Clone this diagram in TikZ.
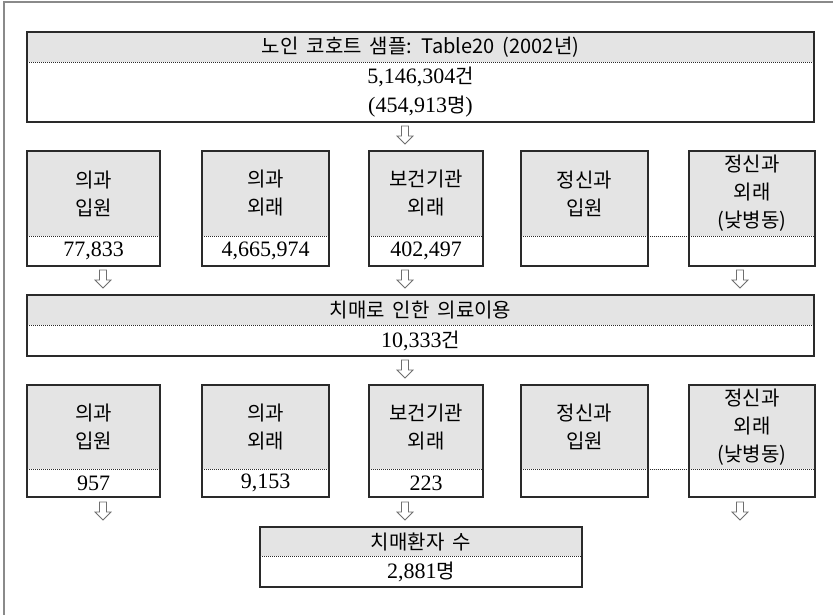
\documentclass[tikz,border=0pt]{standalone}
\usepackage{fontspec}
\setmainfont{Liberation Serif}
\newfontfamily\kr{Noto Sans CJK KR}[WordSpace={1.8}]
\definecolor{boxgray}{HTML}{E4E4E4}
\definecolor{linedark}{HTML}{2A2A2A}
\definecolor{framegray}{HTML}{8A8A8A}
\definecolor{arrgray}{HTML}{6E6E6E}
\begin{document}
\begin{tikzpicture}[x=1pt,y=-1pt,
  hdbox/.style={fill=boxgray, draw=none, inner sep=0pt, outer sep=0pt, anchor=north west,
    align=center, font=\kr\fontsize{20}{28}\selectfont},
  valbox/.style={fill=white, draw=none, inner sep=0pt, outer sep=0pt, anchor=north west,
    align=center, font=\fontsize{22}{29}\selectfont},
  boxline/.style={draw=linedark, line width=1.1pt},
  dotline/.style={draw=linedark, line width=0.6pt, dash pattern=on 0.8pt off 1.2pt},
  framestyle/.style={draw=framegray, line width=1.6pt},
  darr/.pic={\draw[draw=arrgray, line width=0.8pt, fill=white, line join=miter]
     (-3.5,0) -- (-3.5,10) -- (-8,10) -- (0,18) -- (8,10) -- (3.5,10) -- (3.5,0) -- cycle;}
]
\useasboundingbox (0,0) rectangle (833,615);
\draw[framestyle] (4,615) -- (4,2) -- (833,2);

% top box
\node[hdbox, minimum width=787pt, minimum height=30pt] (th) at (27,32) {노인 코호트 샘플: Table20 (2002년)};
\node[valbox, minimum width=787pt, minimum height=60pt] (tv) at (27,62) {5,146,304{\kr\fontsize{20}{29}\selectfont 건}\\({454,913}{\kr\fontsize{20}{29}\selectfont 명})};
\draw[boxline] (th.north west) rectangle (tv.south east);
\draw[dotline] (th.south west) -- (th.south east);

\coordinate (ar0) at (405,126);
\pic at (ar0) {darr};

% row 1
\foreach \n/\x/\w/\lab/\val in {
   a/27/133/{의과\\입원}/{77,833},
   b/202/127/{의과\\외래}/{4,665,974},
   c/369/114/{보건기관\\외래}/{402,497},
   d/521/127/{정신과\\입원}/{},
   e/689/126/{정신과\\외래\\(낮병동)}/{}} {
  \node[hdbox, minimum width=\w pt, minimum height=85pt] (r1\n h) at (\x,151) {\lab};
  \node[valbox, minimum width=\w pt, minimum height=30pt] (r1\n v) at (\x,236) {\val};
  \draw[boxline] (r1\n h.north west) rectangle (r1\n v.south east);
  \draw[dotline] (r1\n h.south west) -- (r1\n h.south east);
}
\draw[dotline] (r1dh.south east) -- (r1eh.south west);

\coordinate (ar1a) at (103,270);
\coordinate (ar1c) at (405,270);
\coordinate (ar1e) at (740,270);
\foreach \c in {ar1a,ar1c,ar1e} \pic at (\c) {darr};

% middle box
\node[hdbox, minimum width=787pt, minimum height=30pt] (mh) at (27,295) {치매로 인한 의료이용};
\node[valbox, minimum width=787pt, minimum height=31pt] (mv) at (27,325) {10,333{\kr\fontsize{20}{29}\selectfont 건}};
\draw[boxline] (mh.north west) rectangle (mv.south east);
\draw[dotline] (mh.south west) -- (mh.south east);

\coordinate (ar2) at (405,360);
\pic at (ar2) {darr};

% row 2
\foreach \n/\x/\w/\lab/\val in {
   a/27/133/{의과\\입원}/{957},
   b/202/127/{의과\\외래}/{9,153},
   c/369/114/{보건기관\\외래}/{223},
   d/521/127/{정신과\\입원}/{},
   e/689/126/{정신과\\외래\\(낮병동)}/{}} {
  \node[hdbox, minimum width=\w pt, minimum height=84pt] (r2\n h) at (\x,385) {\lab};
  \node[valbox, minimum width=\w pt, minimum height=28pt] (r2\n v) at (\x,469) {\val};
  \draw[boxline] (r2\n h.north west) rectangle (r2\n v.south east);
  \draw[dotline] (r2\n h.south west) -- (r2\n h.south east);
}
\draw[dotline] (r2dh.south east) -- (r2eh.south west);

\coordinate (ar3a) at (103,502);
\coordinate (ar3c) at (405,502);
\coordinate (ar3e) at (740,502);
\foreach \c in {ar3a,ar3c,ar3e} \pic at (\c) {darr};

% bottom box
\node[hdbox, minimum width=322pt, minimum height=29pt] (bh) at (260,527) {치매환자 수};
\node[valbox, minimum width=322pt, minimum height=31pt] (bv) at (260,556) {2,881{\kr\fontsize{20}{29}\selectfont 명}};
\draw[boxline] (bh.north west) rectangle (bv.south east);
\draw[dotline] (bh.south west) -- (bh.south east);
\end{tikzpicture}
\end{document}
